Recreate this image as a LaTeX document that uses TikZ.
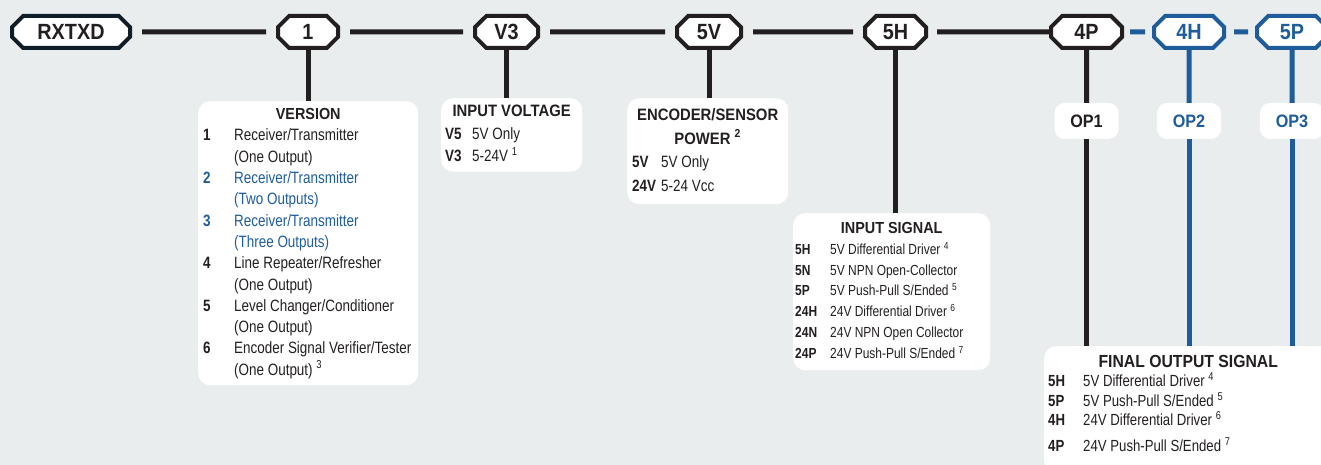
\documentclass[tikz,border=0pt]{standalone}
\usepackage{fontspec}
\setmainfont{Liberation Sans}[FakeStretch=0.82]
\newfontfamily\titlefont{Liberation Sans}[FakeStretch=0.9]
\usetikzlibrary{shapes.misc}
\definecolor{pagebg}{HTML}{E9EDEE}
\definecolor{inkgrey}{HTML}{231F20}
\definecolor{hdrframe}{HTML}{0F1D28}
\definecolor{optblue}{HTML}{1F5C9B}
\newcommand{\boxhead}[2]{{\titlefont\bfseries\fontsize{#1}{#1}\selectfont #2}}

\begin{document}
\begin{tikzpicture}[x=1pt, y=-1pt,
    every node/.style={text=inkgrey},
    hdrbox/.style={
        chamfered rectangle, chamfered rectangle xsep=9pt,
        draw=inkgrey, line width=4pt, fill=white,
        minimum height=32pt, inner sep=0pt,
        font=\titlefont\bfseries\fontsize{22}{22}\selectfont,
    },
    opthdr/.style={hdrbox, draw=optblue, text=optblue},
    link/.style={draw=inkgrey, line width=5pt},
    optlink/.style={draw=optblue, line width=5pt},
    infobox/.style={
        rectangle, rounded corners=12pt, fill=white,
        anchor=north west, inner xsep=4pt, inner ysep=3pt,
    },
    opbox/.style={
        rectangle, rounded corners=10pt, fill=white,
        minimum width=64pt, minimum height=36pt, inner sep=0pt,
        font=\titlefont\bfseries\fontsize{18}{18}\selectfont,
    },
]
\fill[pagebg] (0,0) rectangle (1321,465);
\useasboundingbox (0,0) rectangle (1321,465);

% -- part number fields --------------------------------------------------
\node[hdrbox, draw=hdrframe, minimum width=118pt] (hRX) at (71,32) {RXTXD};
\node[hdrbox, minimum width=60pt] (h1)  at (308,32)   {1};
\node[hdrbox, minimum width=63pt] (hV3) at (506.5,32) {V3};
\node[hdrbox, minimum width=64pt] (h5V) at (709,32)   {5V};
\node[hdrbox, minimum width=61pt] (h5H) at (895.5,32) {5H};
\node[hdrbox, minimum width=71pt] (h4P) at (1086.5,32) {4P};
\node[opthdr, minimum width=70pt] (h4H) at (1189,32)  {4H};
\node[opthdr, minimum width=70pt] (h5P) at (1292,32)  {5P};

% -- output tags ---------------------------------------------------------
\node[opbox] (op1) at (h4P |- 0,121) {OP1};
\node[opbox, text=optblue] (op2) at (h4H |- 0,121) {OP2};
\node[opbox, text=optblue] (op3) at (h5P |- 0,121) {OP3};

% -- version -------------------------------------------------------------
\node[infobox, inner xsep=5pt, minimum width=220pt, minimum height=284pt,
      font=\fontsize{16.4}{21.3}\selectfont] (ver) at (198,101) {%
    \begin{tabular}{@{}p{31pt}@{}p{179pt}@{}}
    \multicolumn{2}{@{}c@{}}{\boxhead{16}{VERSION}}\\
    \textbf{1} & Receiver/Transmitter\\
               & (One Output)\\
    \textcolor{optblue}{\textbf{2}} & \textcolor{optblue}{Receiver/Transmitter}\\
               & \textcolor{optblue}{(Two Outputs)}\\
    \textcolor{optblue}{\textbf{3}} & \textcolor{optblue}{Receiver/Transmitter}\\
               & \textcolor{optblue}{(Three Outputs)}\\
    \textbf{4} & Line Repeater/Refresher\\
               & (One Output)\\
    \textbf{5} & Level Changer/Conditioner\\
               & (One Output)\\
    \textbf{6} & Encoder Signal Verifier/Tester\\
               & (One Output) \textsuperscript{3}
    \end{tabular}};

% -- input voltage -------------------------------------------------------
\node[infobox, minimum width=141pt, minimum height=70pt,
      font=\fontsize{16.4}{22.5}\selectfont] (volt) at (441,98) {%
    \begin{tabular}{@{}p{27pt}@{}p{106pt}@{}}
    \multicolumn{2}{@{}c@{}}{\boxhead{16.5}{INPUT VOLTAGE}}\\
    \textbf{V5} & 5V Only\\
    \textbf{V3} & 5-24V \textsuperscript{1}
    \end{tabular}};

% -- encoder / sensor power ----------------------------------------------
\node[infobox, inner xsep=5pt, minimum width=161pt, minimum height=106pt,
      font=\fontsize{16.4}{23.5}\selectfont] (pwr) at (627,98) {%
    \begin{tabular}{@{}p{29pt}@{}p{122pt}@{}}
    \multicolumn{2}{@{}c@{}}{\boxhead{16.5}{ENCODER/SENSOR}}\\
    \multicolumn{2}{@{}c@{}}{\boxhead{16.5}{POWER \textsuperscript{2}}}\\
    \textbf{5V}  & 5V Only\\
    \textbf{24V} & 5-24 Vcc
    \end{tabular}};

% -- input signal --------------------------------------------------------
\node[infobox, inner xsep=2pt, minimum width=197pt, minimum height=157pt,
      font=\fontsize{14.6}{20.8}\selectfont] (insig) at (793,213) {%
    \begin{tabular}{@{}p{35pt}@{}p{158pt}@{}}
    \multicolumn{2}{@{}c@{}}{\boxhead{16}{INPUT SIGNAL}}\\
    \textbf{5H}  & 5V Differential Driver \textsuperscript{4}\\
    \textbf{5N}  & 5V NPN Open-Collector\\
    \textbf{5P}  & 5V Push-Pull S/Ended \textsuperscript{5}\\
    \textbf{24H} & 24V Differential Driver \textsuperscript{6}\\
    \textbf{24N} & 24V NPN Open Collector\\
    \textbf{24P} & 24V Push-Pull S/Ended \textsuperscript{7}
    \end{tabular}};

% -- final output signal -------------------------------------------------
\node[infobox, inner ysep=8pt, minimum width=288pt,
      font=\fontsize{16.1}{18.5}\selectfont] (fos) at (1044,346) {%
    \begin{tabular}{@{}p{35pt}@{}p{245pt}@{}}
    \multicolumn{2}{@{}c@{}}{\boxhead{17.5}{FINAL OUTPUT SIGNAL}}\\
    \textbf{5H} & 5V Differential Driver \textsuperscript{4}\\
    \textbf{5P} & 5V Push-Pull S/Ended \textsuperscript{5}\\
    \textbf{4H} & 24V Differential Driver \textsuperscript{6}\\[6pt]
    \textbf{4P} & 24V Push-Pull S/Ended \textsuperscript{7}\rule[-14pt]{0pt}{14pt}
    \end{tabular}};

% -- links ---------------------------------------------------------------
\draw[link, shorten <=10pt, shorten >=10pt] (hRX) -- (h1);
\draw[link, shorten <=10pt, shorten >=10pt] (h1) -- (hV3);
\draw[link, shorten <=10pt, shorten >=10pt] (hV3) -- (h5V);
\draw[link, shorten <=10pt, shorten >=10pt] (h5V) -- (h5H);
\draw[link, shorten <=9pt] (h5H) -- (h4P);
\draw[optlink, shorten <=6pt, shorten >=7pt] (h4P) -- (h4H);
\draw[optlink, shorten <=8pt, shorten >=7pt] (h4H) -- (h5P);

\draw[link] (h1) -- (ver.north -| h1);
\draw[link] (hV3) -- (volt.north -| hV3);
\draw[link] (h5V) -- (pwr.north -| h5V);
\draw[link] (h5H) -- (insig.north -| h5H);
\draw[link] (h4P) -- (op1);
\draw[link] (op1) -- (fos.north -| op1);
\draw[optlink] (h4H) -- (op2);
\draw[optlink] (op2) -- (fos.north -| op2);
\draw[optlink] (h5P) -- (op3);
\draw[optlink] (op3) -- (fos.north -| op3);
\end{tikzpicture}
\end{document}
